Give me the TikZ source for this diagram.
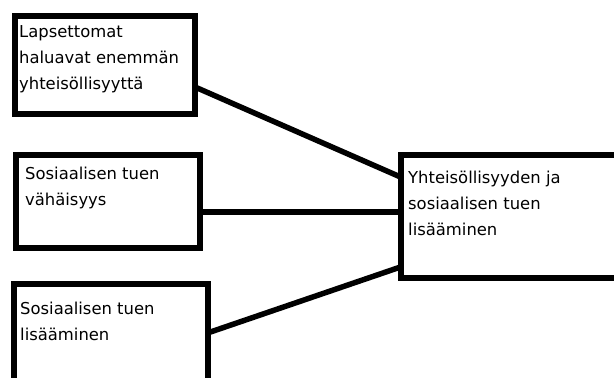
\documentclass[tikz,border=0pt]{standalone}
\usepackage{fontspec}
\setmainfont{DejaVu Sans}

\begin{document}
\begin{tikzpicture}[x=1pt,y=-1pt,
  box/.style={rectangle,draw,line width=6pt,anchor=north west,inner sep=0pt,outer sep=0pt},
  txt/.style={anchor=base west,inner sep=0pt,align=left,font=\fontsize{16.4}{26}\selectfont},
  link/.style={line width=5.5pt}]
\useasboundingbox (0,0) rectangle (614,378);
\clip (0,0) rectangle (614,378);

\node [box,minimum width=180pt,minimum height=98pt] (lapset) at (15,16) {};
\node [box,minimum width=184pt,minimum height=93pt] (vahaisyys) at (16,155) {};
\node [box,minimum width=194pt,minimum height=110pt] (lisaaminen) at (13.5,283.5) {};
\node [box,minimum width=230pt,minimum height=122.5pt] (yhteis) at (400.5,155) {};

% base = baseline of the last line
\node [txt] (lapset-t) at (19,89.5) {Lapsettomat\\haluavat enemmän\\yhteisöllisyyttä};
\node [txt] (vahaisyys-t) at (25,205) {Sosiaalisen tuen\\vähäisyys};
\node [txt] (lisaaminen-t) at (20,340) {Sosiaalisen tuen\\lisääminen};
\node [txt] (yhteis-t) at (408,235) {Yhteisöllisyyden ja\\sosiaalisen tuen\\lisääminen};

\draw [link] ([yshift=27pt]lapset.south east) -- ([yshift=-22pt]yhteis.north west);
\draw [link] ([yshift=36pt]vahaisyys.south east) -- ([yshift=-57pt]yhteis.north west);
\draw [link] ([yshift=-49.5pt]lisaaminen.north east) -- ([yshift=10.5pt]yhteis.south west);
\end{tikzpicture}
\end{document}
